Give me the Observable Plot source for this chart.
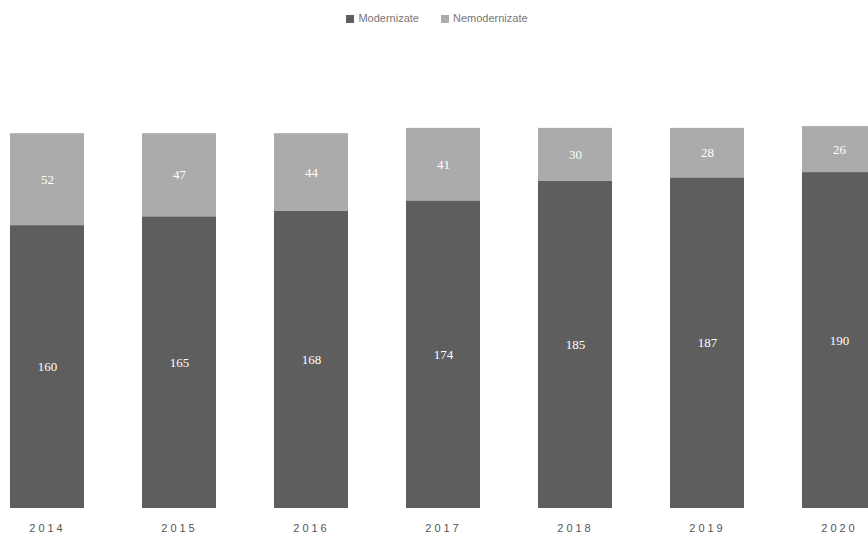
<!DOCTYPE html>
<html>
<head>
<meta charset="utf-8">
<script src="https://cdn.jsdelivr.net/npm/d3@7"></script>
<script src="https://cdn.jsdelivr.net/npm/@observablehq/plot@0.6"></script>
<style>
  html, body { margin: 0; padding: 0; background: #fff; }
  #wrap { width: 868px; height: 539px; overflow: hidden; position: relative; font-family: "Liberation Sans", Arial, sans-serif; }
  #legend { height: 36px; display: flex; justify-content: center; align-items: center; gap: 22px; font-size: 11px; color: #777; padding-left: 6px; box-sizing: border-box; }
  #legend span.sw { display: inline-block; width: 8px; height: 8px; margin-right: 4px; vertical-align: -1px; }
  #chart svg { display: block; }
  #chart svg g[aria-label="x-axis tick label"] text { letter-spacing: 3px; }
</style>
</head>
<body>
<div id="wrap">
  <div id="legend"></div>
  <div id="chart"></div>
</div>
<script>
const years = ["2014", "2015", "2016", "2017", "2018", "2019", "2020"];
const modernizate = [160, 165, 168, 174, 185, 187, 190];
const nemodernizate = [52, 47, 44, 41, 30, 28, 26];
const seriesNames = ["Modernizate", "Nemodernizate"];
const seriesColors = ["#5e5e5e", "#ababab"];

const data = [];
years.forEach((y, i) => {
  data.push({year: y, series: seriesNames[0], value: modernizate[i]});
  data.push({year: y, series: seriesNames[1], value: nemodernizate[i]});
});

const legend = document.getElementById("legend");
seriesNames.forEach((s, i) => {
  const item = document.createElement("div");
  item.innerHTML = `<span class="sw" style="background:${seriesColors[i]}"></span>${s}`;
  legend.appendChild(item);
});

const chart = Plot.plot({
  width: 868,
  height: 503,
  marginLeft: 0,
  marginRight: 0,
  marginTop: 0,
  marginBottom: 31,
  x: {domain: years, range: [-19, 905], paddingInner: 0.44, paddingOuter: 0.22, label: null, tickSize: 0},
  y: {domain: [0, 250], range: [472, 30], axis: null},
  color: {domain: seriesNames, range: seriesColors},
  style: {fontFamily: "Liberation Sans, Arial, sans-serif", overflow: "hidden"},
  marks: [
    Plot.barY(data, Plot.stackY({x: "year", y: "value", fill: "series", order: seriesNames})),
    Plot.text(data, Plot.stackY({x: "year", y: "value", z: "series", order: seriesNames, text: d => String(d.value), fill: "white", fontSize: 13, fontFamily: "Liberation Serif, serif"})),
    Plot.axisX({tickSize: 0, tickPadding: 16, fontSize: 11, fill: "#555"})
  ]
});
document.getElementById("chart").appendChild(chart);
</script>
</body>
</html>
